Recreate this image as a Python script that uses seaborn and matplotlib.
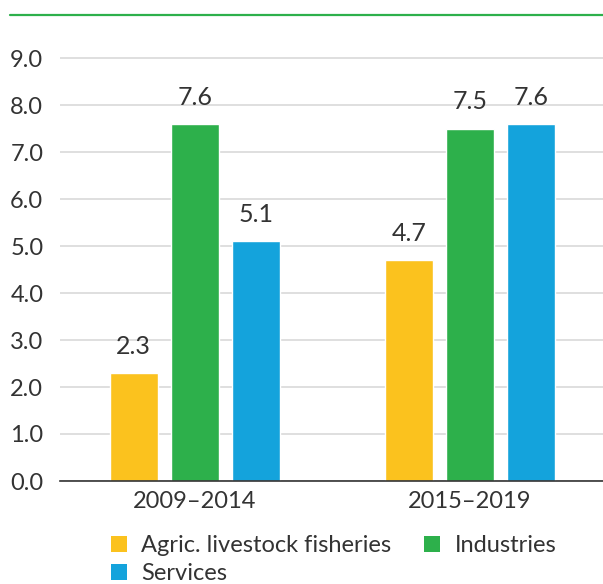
import matplotlib
matplotlib.use("Agg")
import matplotlib.pyplot as plt
import seaborn as sns
import pandas as pd
from matplotlib.lines import Line2D
from matplotlib.patches import Patch

periods = ["2009–2014", "2015–2019"]
sectors = ["Agric. livestock fisheries", "Industries", "Services"]
agric = [2.3, 4.7]
industries = [7.6, 7.5]
services = [5.1, 7.6]
yticks = [0, 1, 2, 3, 4, 5, 6, 7, 8, 9]
colors = ["#FBC21E", "#2DB04B", "#14A3DC"]

df = pd.DataFrame({
    "period": periods * 3,
    "sector": [s for s in sectors for _ in periods],
    "value": agric + industries + services,
})

sns.set_theme(style="white")
plt.rcParams["font.family"] = ["Lato", "DejaVu Sans"]
text_color = "#333333"

fig = plt.figure(figsize=(6.03, 5.84), dpi=100)
ax = fig.add_axes([60 / 603, 1 - 481 / 584, 1 - 60 / 603, (481 - 58) / 584 * 9.6 / 9])

sns.barplot(data=df, x="period", y="value", hue="sector", hue_order=sectors,
            order=periods, palette=colors, width=0.665, gap=0.21,
            saturation=1, ax=ax, legend=False)

for cont in ax.containers:
    ax.bar_label(cont, fmt="%.1f", padding=11, fontsize=18, color=text_color)

ax.set_ylim(0, 9.6)
ax.set_xlim(-0.49, 1.484)
ax.set_yticks(yticks)
ax.set_yticklabels([f"{v:.1f}" for v in yticks])
ax.yaxis.grid(True, color="#d9d9d9", linewidth=1.2)
ax.set_axisbelow(True)
for s in ["top", "right", "left"]:
    ax.spines[s].set_visible(False)
ax.spines["bottom"].set_color(text_color)
ax.spines["bottom"].set_linewidth(1.2)
ax.tick_params(axis="y", length=0, pad=12, labelsize=17, labelcolor=text_color)
ax.tick_params(axis="x", length=0, pad=7, labelsize=17, labelcolor=text_color)
ax.set_xlabel("")
ax.set_ylabel("")

# Rule across the top of the figure
fig.add_artist(Line2D([10 / 603, 1], [1 - 15 / 584] * 2, color="#2DB04B", linewidth=1.6,
                      transform=fig.transFigure))

# Legend filled column-wise: first column holds Agric. and Services
order = [0, 2, 1]
handles = [Patch(facecolor=colors[i], edgecolor="none") for i in order]
labels = [sectors[i] for i in order]
fig.legend(handles, labels, ncol=2, loc="upper left", bbox_to_anchor=(111 / 603, 1 - 535 / 584),
           frameon=False, fontsize=17, handlelength=0.68, handleheight=0.68,
           handletextpad=0.6, columnspacing=1.4, labelspacing=0.3, borderpad=0,
           borderaxespad=0, labelcolor=text_color)

fig.savefig("out.png", dpi=100)
